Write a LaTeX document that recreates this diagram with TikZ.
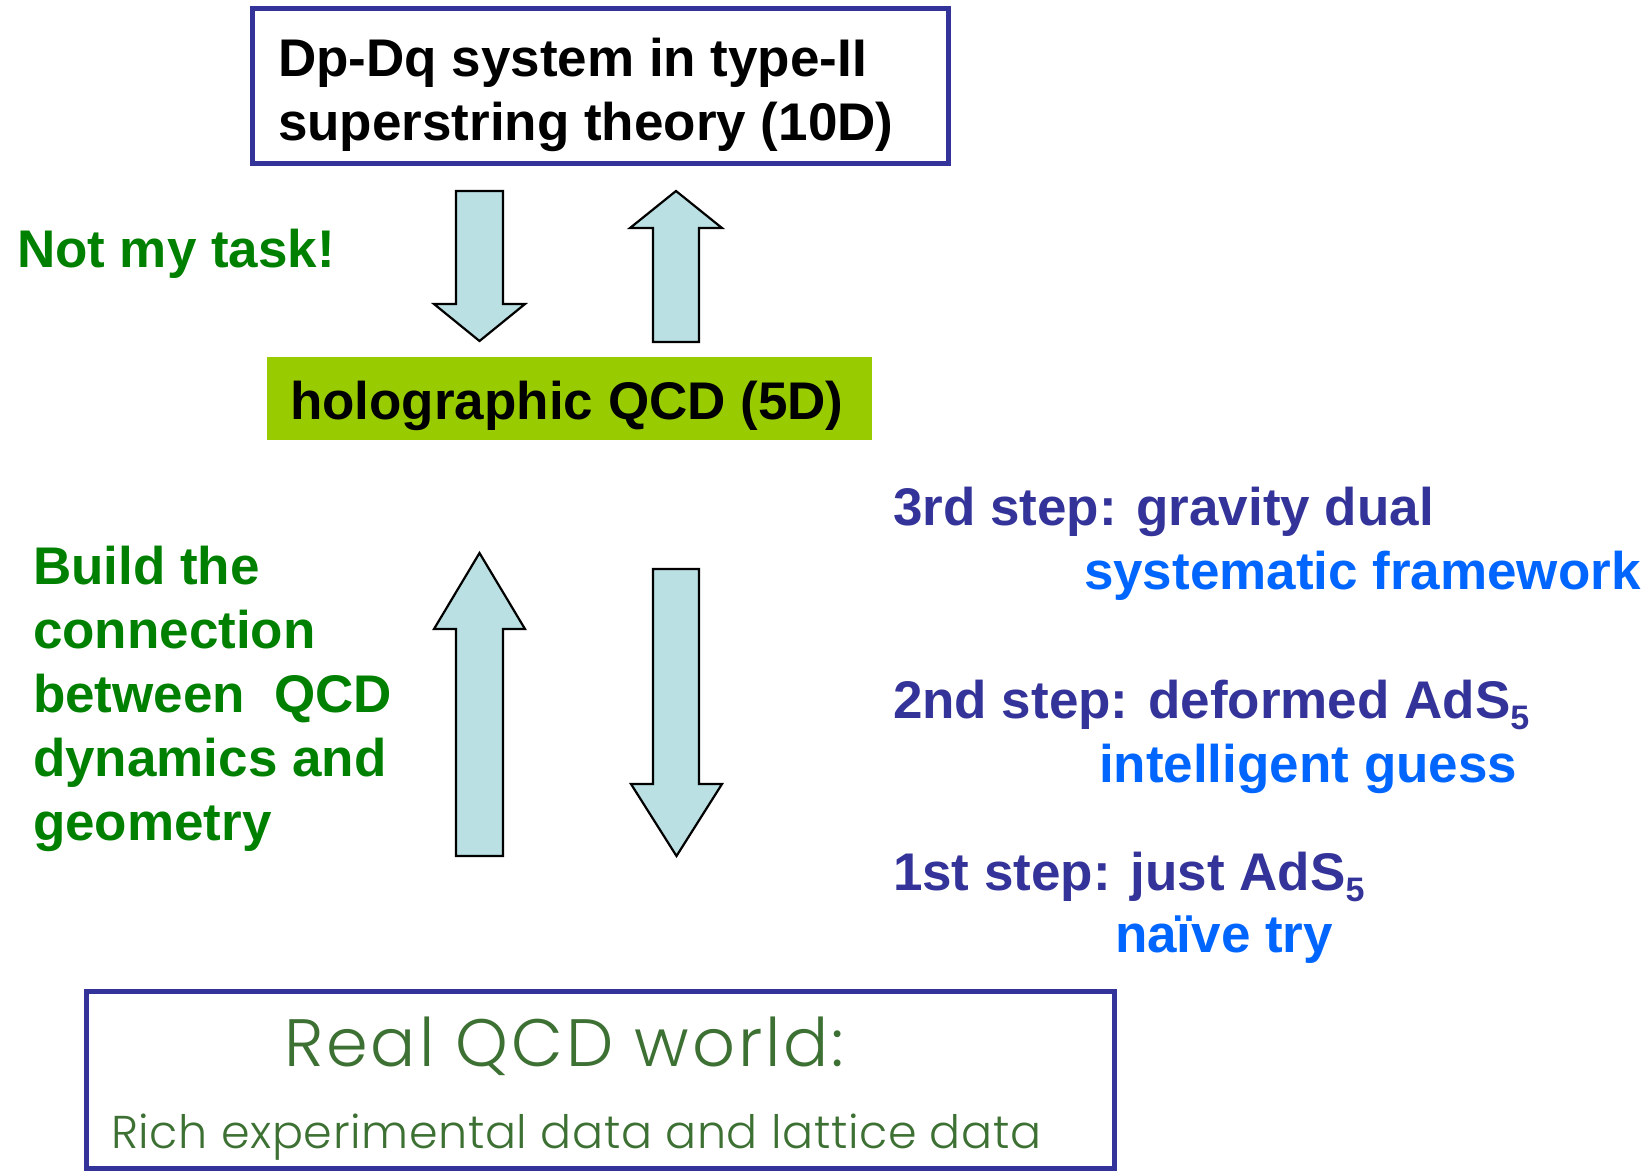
\documentclass[tikz,border=0pt]{standalone}
\usepackage{fontspec}
\setmainfont{Liberation Sans}
\newfontfamily\popfont{Poppins Light}
\definecolor{boxblue}{HTML}{333399}
\definecolor{hgreen}{HTML}{99CC00}
\definecolor{txtgreen}{HTML}{008000}
\definecolor{stepblue}{HTML}{333399}
\definecolor{brightblue}{HTML}{0066FF}
\definecolor{realgreen}{HTML}{3D7033}
\definecolor{arrowfill}{HTML}{BAE0E3}
\newcommand\lowsub[1]{\raisebox{-11pt}{\fontsize{34}{34}\selectfont #1}}
\begin{document}
\begin{tikzpicture}[x=1pt,y=-1pt,
  bigtxt/.style={inner sep=0pt, outer sep=0pt, anchor=base west, align=left,
    font=\fontsize{53}{64}\selectfont\bfseries},
  framebox/.style={draw=boxblue, line width=5pt, inner sep=0pt, outer sep=0pt},
  blockarrow/.style={fill=arrowfill, draw=black, line width=2.2pt, line join=miter},
  realtxt/.style={inner sep=0pt, outer sep=0pt, anchor=base west, text=realgreen}]
\useasboundingbox (0,0) rectangle (1652,1171);

% top box
\node[framebox, minimum width=696pt, minimum height=155pt] (topbox) at (600.5,86) {};
\node[bigtxt] (toptxt) at (278,140) {Dp-Dq system in type-II\\superstring theory (10D)};

% holographic box
\node[fill=hgreen, inner sep=0pt, minimum width=605pt, minimum height=83pt] (holo) at (569.5,398.5) {};
\node[bigtxt] (holotxt) at (290,419) {holographic QCD (5D)};

% arrows between top box and holographic box
\filldraw[blockarrow] (456,191) -- (503,191) -- (503,304) -- (525,304) -- (479.5,341) -- (434,304) -- (456,304) -- cycle;
\filldraw[blockarrow] (653,342) -- (699,342) -- (699,228) -- (722,228) -- (676,191) -- (630,228) -- (653,228) -- cycle;

% arrows between holographic box and real world
\filldraw[blockarrow] (456,856) -- (503,856) -- (503,629) -- (525,629) -- (479.5,553) -- (434,629) -- (456,629) -- cycle;
\filldraw[blockarrow] (653,569) -- (699,569) -- (699,784) -- (722,784) -- (676.5,856) -- (631,784) -- (653,784) -- cycle;

% left labels
\node[bigtxt, text=txtgreen] (task) at (17,267) {Not my task!};
\node[bigtxt, text=txtgreen] (build) at (33,840) {Build the\\connection\\between\ \ QCD\\dynamics and\\geometry};

% right labels
\node[bigtxt, text=stepblue] (s3) at (893,525) {3rd step: gravity dual};
\node[bigtxt, text=brightblue] (s3b) at (1084,589) {systematic framework};
\node[bigtxt, text=stepblue] (s2) at (893,718) {2nd step: deformed AdS\lowsub{5}};
\node[bigtxt, text=brightblue] (s2b) at (1099,782) {intelligent guess};
\node[bigtxt, text=stepblue] (s1) at (893,890) {1st step: just AdS\lowsub{5}};
\node[bigtxt, text=brightblue] (s1b) at (1115,952) {naïve try};

% bottom box
\node[framebox, minimum width=1028pt, minimum height=177pt] (realbox) at (600.5,1080) {};
\node[realtxt, font=\popfont\fontsize{67}{70}\selectfont\addfontfeature{LetterSpace=4.4}] (realtitle) at (284,1066) {Real QCD world:};
\node[realtxt, font=\popfont\fontsize{46}{50}\selectfont\addfontfeature{LetterSpace=1.4}] (realsub) at (111,1148) {Rich experimental data and lattice data};
\end{tikzpicture}
\end{document}
